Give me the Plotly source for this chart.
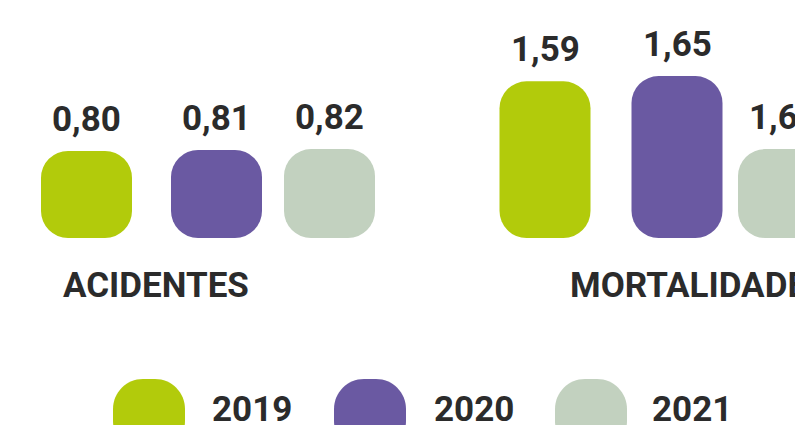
import plotly.graph_objects as go

# ---------------- data ----------------
categories = ["ACIDENTES", "MORTALIDADE"]
years = ["2019", "2020", "2021"]
# printed values (per category)
values_2019 = [0.80, 1.59]
values_2020 = [0.81, 1.65]
values_2021 = [0.82, 1.60]   # mortalidade 2021 label is cut at the right edge ("1,6…")
# bar heights as drawn in the picture (the 2021 mortalidade bar is drawn at the acidentes level)
heights_2019 = [0.80, 1.59]
heights_2020 = [0.81, 1.65]
heights_2021 = [0.82, 0.82]

values = {"2019": values_2019, "2020": values_2020, "2021": values_2021}
heights = {"2019": heights_2019, "2020": heights_2020, "2021": heights_2021}

# ---------------- style / layout ----------------
W, H = 795, 425
colors = {"2019": "#B2CB0B", "2020": "#6A59A2", "2021": "#C2D1BF"}
TEXT = "#2B2B2B"
FONT = "Roboto"
WEIGHT = 700

FLOOR = -0.19            # bar floor in value units
PX_PER_UNIT_Y = 88.0
PLOT_H = 238             # plot area height in px (baseline of bars)
yrange = [FLOOR, FLOOR + PLOT_H / PX_PER_UNIT_Y]

X_UNIT = 456.25          # px between category centres
X0_PX = 208              # px of first category centre
xrange = [-X0_PX / X_UNIT, (W - X0_PX) / X_UNIT]
BAR_W_PX = 91
BAR_W = BAR_W_PX / X_UNIT
# bar centre offsets (px) from category centre, per year, per category
center_px = {"2019": [-121.5, -119.25], "2020": [8.5, 12.75], "2021": [121.5, 119.25]}
RADIUS = 27

fig = go.Figure()
xs = list(range(len(categories)))

for yr in years:
    hs = heights[yr]
    offs = [c / X_UNIT - BAR_W / 2 for c in center_px[yr]]
    fig.add_trace(go.Bar(
        x=xs, y=[h - FLOOR for h in hs], base=[FLOOR] * len(hs),
        width=BAR_W, offset=offs,
        marker=dict(color=colors[yr], cornerradius=RADIUS, line=dict(width=0)),
        name=yr, showlegend=False, hoverinfo="skip"))

annotations = []
for yr in years:
    for i, (v, h) in enumerate(zip(values[yr], heights[yr])):
        annotations.append(dict(
            x=i + center_px[yr][i] / X_UNIT, y=h, xref="x", yref="y",
            text=f"{v:.2f}".replace(".", ","), showarrow=False,
            xanchor="center", yanchor="bottom", yshift=9,
            font=dict(family=FONT, size=35, color=TEXT, weight=WEIGHT)))


def py(p):  # px from top -> paper y
    return (PLOT_H - p) / PLOT_H


def px(p):
    return p / W


# category labels
cat_left_px = [61, 568]
for name, lx in zip(categories, cat_left_px):
    annotations.append(dict(
        x=px(lx), y=py(285), xref="paper", yref="paper", text=name, showarrow=False,
        xanchor="left", yanchor="middle",
        font=dict(family=FONT, size=35, color=TEXT, weight=WEIGHT)))

# custom legend
leg_sym_left = [113, 334, 555]
leg_txt_left = [210, 432, 650]
shapes = []
k = 0.5523


def rrect(x0, y0, x1, y1, r):
    def P(x, y):
        return f"{px(x):.5f},{py(y):.5f}"
    c = r * k
    d = (f"M {P(x0 + r, y0)} L {P(x1 - r, y0)} "
         f"C {P(x1 - r + c, y0)} {P(x1, y0 + r - c)} {P(x1, y0 + r)} "
         f"L {P(x1, y1 - r)} "
         f"C {P(x1, y1 - r + c)} {P(x1 - r + c, y1)} {P(x1 - r, y1)} "
         f"L {P(x0 + r, y1)} "
         f"C {P(x0 + r - c, y1)} {P(x0, y1 - r + c)} {P(x0, y1 - r)} "
         f"L {P(x0, y0 + r)} "
         f"C {P(x0, y0 + r - c)} {P(x0 + r - c, y0)} {P(x0 + r, y0)} Z")
    return d


for yr, sx, tx in zip(years, leg_sym_left, leg_txt_left):
    shapes.append(dict(type="path", xref="paper", yref="paper",
                       path=rrect(sx, 379, sx + 72, 379 + 72, 30),
                       fillcolor=colors[yr], line=dict(width=0), layer="above"))
    annotations.append(dict(
        x=px(tx), y=py(409), xref="paper", yref="paper", text=yr, showarrow=False,
        xanchor="left", yanchor="middle",
        font=dict(family=FONT, size=35, color=TEXT, weight=WEIGHT)))

fig.update_layout(
    width=W, height=H,
    margin=dict(l=0, r=0, t=0, b=H - PLOT_H, pad=0),
    paper_bgcolor="white", plot_bgcolor="white",
    barmode="overlay",
    xaxis=dict(range=xrange, visible=False, fixedrange=True),
    yaxis=dict(range=yrange, visible=False, fixedrange=True),
    annotations=annotations, shapes=shapes,
    showlegend=False,
)

fig.write_html("out.html", config={"displayModeBar": False},
               post_script="document.body.style.margin='0';document.body.style.overflow='hidden';")
